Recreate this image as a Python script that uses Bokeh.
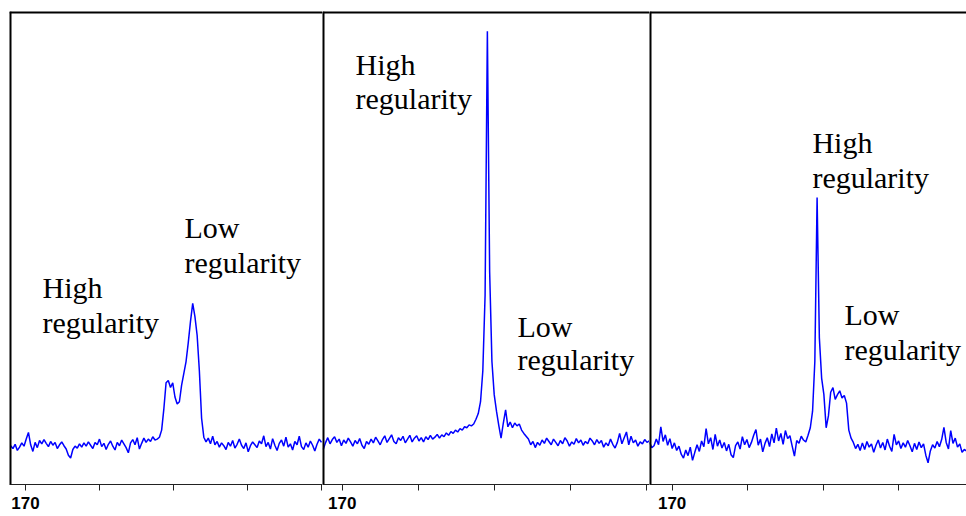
import numpy as np
from bokeh.plotting import figure
from bokeh.layouts import row
from bokeh.models import Range1d, Span, FixedTicker
from bokeh.core.properties import value
from bokeh.embed import file_html
from bokeh.resources import INLINE

# ---------------- data (13C carbonyl region, ppm) ----------------
ppm_step = 0.03
start_a = 170.20
start_b = 170.25
start_c = 170.30

spectrum_a = [
    8.2, 7.6, 8.5, 7.2, 7.9, 8.8, 8.1, 9.6, 11.0, 8.4,
    7.0, 8.9, 7.8, 9.3, 8.6, 9.5, 8.7, 8.0, 9.1, 8.3,
    8.9, 7.6, 8.4, 9.0, 8.2, 7.5, 6.2, 5.6, 7.4, 8.1,
    7.7, 8.6, 7.9, 8.8, 8.1, 9.0, 8.3, 7.6, 8.9, 8.4,
    9.6, 8.0, 8.7, 7.4, 8.5, 9.2, 8.1, 7.3, 8.9, 8.2,
    9.4, 8.6, 7.8, 6.7, 8.8, 9.5, 8.4, 9.9, 7.5, 8.7,
    9.8, 8.9, 9.6, 9.1, 10.1, 9.4,
    9.6, 10.0, 11.5, 16.0, 21.5, 22.0, 20.5, 21.5, 18.5, 17.0,
    17.5, 21.0, 23.5, 26.0, 30.0, 34.5, 38.3, 35.5, 31.5, 24.0,
    14.0, 10.0, 9.0,
    9.8, 8.6, 10.2, 8.4, 9.1, 7.9, 8.8, 8.2, 7.4, 8.9,
    8.1, 9.3, 7.7, 8.5, 9.6, 8.3, 7.6, 8.8, 6.9, 8.2,
    9.0, 8.4, 7.8, 9.2, 8.6, 10.3, 8.0, 8.9, 7.5, 9.7,
    8.3, 7.2, 8.7, 9.4, 8.1, 10.0, 7.9, 8.6, 7.3, 9.1,
    8.4, 10.2, 8.0, 7.4, 8.8, 7.9, 9.2, 8.3, 7.1, 8.5,
    9.6, 8.9,
]

spectrum_b = [
    7.4, 8.8, 9.9, 8.6, 9.5, 10.1, 8.9, 9.6, 8.2, 9.4,
    8.7, 9.8, 9.0, 8.1, 9.3, 8.6, 9.7, 8.3, 7.6, 9.1,
    8.5, 9.6, 8.8, 10.0, 9.2, 8.4, 9.5, 10.3, 8.9, 9.7,
    10.5, 9.1, 8.6, 9.9, 9.3, 10.2, 8.8, 9.6, 10.4, 9.0,
    9.8, 10.3, 9.2, 9.9, 9.0, 10.1, 9.5, 10.4, 9.6, 10.0,
    10.6, 9.8, 10.5, 10.1, 10.9, 10.4, 11.2, 10.8, 11.5, 11.1,
    11.8, 11.5, 12.2, 12.0, 12.6, 12.4,
    12.8, 13.8, 15.0, 17.5, 24.0, 40.0, 95.8, 45.0, 26.0, 19.0,
    15.5, 12.5, 9.8, 13.0, 15.8, 12.2, 13.2, 12.0, 13.0, 12.4,
    12.8, 11.5, 10.8, 10.2, 9.6, 8.4, 9.1,
    7.8, 8.9, 8.3, 9.4, 8.7, 9.8, 9.1, 8.4, 9.6, 8.9,
    8.2, 9.3, 8.6, 9.9, 9.2, 8.1, 9.0, 8.5, 9.7, 8.8,
    9.4, 8.3, 9.1, 8.6, 9.8, 9.2, 8.4, 9.5, 8.7, 9.3,
    7.9, 8.8, 8.2, 9.6, 8.5, 7.7, 8.9, 10.8, 8.6, 9.9,
    11.1, 8.4, 10.2, 8.8, 9.4, 8.1, 9.0, 8.6, 9.5, 8.9,
    9.2,
]

spectrum_c = [
    8.9, 7.8, 8.2, 9.6, 8.4, 12.2, 9.1, 10.5, 8.3, 9.7,
    7.6, 8.8, 7.2, 8.1, 6.4, 5.6, 7.3, 6.1, 7.9, 5.1,
    6.8, 8.4, 7.0, 9.2, 8.0, 11.8, 8.6, 9.9, 7.4, 10.6,
    8.1, 9.4, 7.7, 8.9, 7.1, 8.5, 6.3, 5.7, 8.2, 9.0,
    7.5, 10.1, 8.4, 9.5, 7.8, 8.9, 10.4, 11.6, 8.3, 9.6,
    6.9, 8.7, 9.9, 8.0, 10.7, 8.8, 11.9, 9.2, 10.8, 8.5,
    11.4, 9.7, 10.3, 8.1, 6.0, 9.3, 8.7, 10.2, 9.4, 9.0,
    10.4, 12.0, 15.5, 26.0, 60.7, 31.0, 22.5, 19.0, 12.0, 14.5,
    19.5, 20.5, 18.0, 19.0, 19.8, 18.3, 18.8, 17.2, 11.5, 9.8,
    8.9,
    7.6, 8.5, 7.2, 8.8, 7.4, 9.1, 7.9, 8.6, 6.8, 8.3,
    9.4, 7.7, 8.9, 7.3, 9.6, 8.1, 7.0, 10.6, 8.4, 9.2,
    7.6, 8.8, 7.9, 9.3, 8.2, 6.9, 8.7, 7.4, 9.0, 7.8,
    8.6, 6.2, 4.6, 7.1, 8.4, 7.7, 9.1, 8.0, 9.5, 12.1,
    8.9, 7.5, 11.4, 8.7, 9.8, 7.9, 8.6, 6.8, 7.4, 7.1,
]

tick_major = [170]
tick_minor = [169, 168, 167, 166]

label_high = ["High", "regularity"]
label_low = ["Low", "regularity"]


def grid(start, n):
    return np.linspace(start, start - ppm_step * (n - 1), n)


def make_panel(width, xr, xs, ys, border_left, labels):
    p = figure(width=width, height=516,
               x_range=Range1d(xr[0], xr[1]), y_range=Range1d(0, 100),
               output_backend="svg", toolbar_location=None,
               y_axis_location=None,
               min_border_left=border_left, min_border_right=0,
               min_border_top=11, min_border_bottom=32,
               outline_line_color=None,
               background_fill_color="white", border_fill_color="white")
    p.xgrid.visible = False
    p.ygrid.visible = False
    p.line(xs, ys, line_color="#0000FF", line_width=1.5)

    ax = p.xaxis[0]
    ax.ticker = FixedTicker(ticks=tick_major, minor_ticks=tick_minor)
    ax.major_tick_out = 6
    ax.major_tick_in = 0
    ax.minor_tick_out = 6
    ax.minor_tick_in = 0
    ax.major_tick_line_color = "#222222"
    ax.minor_tick_line_color = "#222222"
    ax.axis_line_color = "#222222"
    ax.axis_line_width = 1
    ax.major_label_text_font = "Liberation Sans"
    ax.major_label_text_font_style = "bold"
    ax.major_label_text_font_size = "17px"
    ax.major_label_text_color = "black"
    ax.major_label_standoff = 6

    # frame borders (half of the stroke is clipped by the frame)
    p.add_layout(Span(location=100, dimension="width",
                      line_color="black", line_width=4))
    p.add_layout(Span(location=xr[0], dimension="height",
                      line_color="black", line_width=4))

    tx, ty, tt = [], [], []
    for (lx, ly, words) in labels:
        for k, w in enumerate(words):
            tx.append(lx)
            ty.append(ly[k])
            tt.append(w)
    p.text(x=tx, y=ty, text=tt, text_font=value("Liberation Serif"),
           text_font_size="30px", text_color="black",
           text_align="left", text_baseline="alphabetic")
    return p


pa = make_panel(322, (170.216, 165.986), grid(start_a, len(spectrum_a)), spectrum_a, 9,
                [(169.77, (41.7, 34.3), label_high),
                 (167.851, (54.4, 47.0), label_low)])
pb = make_panel(327, (170.259, 165.957), grid(start_b, len(spectrum_b)), spectrum_b, 0,
                [(169.825, (88.9, 81.7), label_high),
                 (167.693, (33.4, 26.4), label_low)])
pc = make_panel(317, (170.300, 166.101), grid(start_c, len(spectrum_c)), spectrum_c, 0,
                [(168.142, (72.4, 65.0), label_high),
                 (167.718, (36.0, 28.5), label_low)])

layout = row(pa, pb, pc, spacing=0)
open("out.html", "w").write(file_html(layout, INLINE))
